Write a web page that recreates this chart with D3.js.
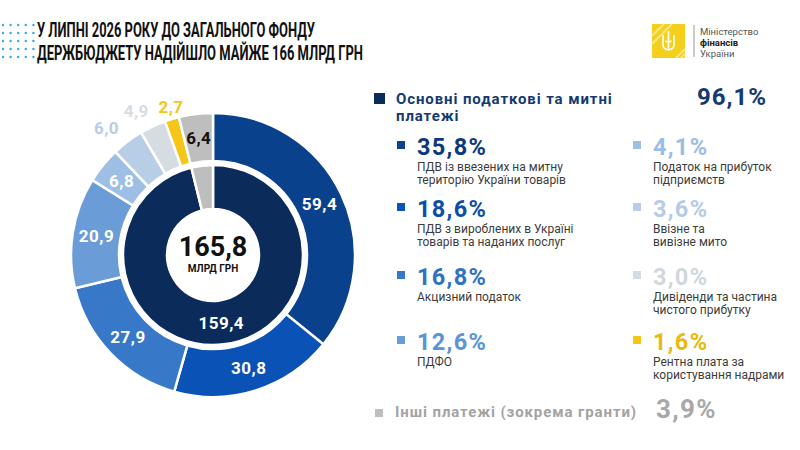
<!DOCTYPE html>
<html>
<head>
<meta charset="utf-8">
<script src="https://cdn.jsdelivr.net/npm/d3@7"></script>
<style>
  body { margin: 0; background: #fff; }
  svg { display: block; font-family: Roboto, "Noto Sans", sans-serif; }
</style>
</head>
<body>
<div id="chart"></div>
<script>
// outer ring, clockwise from the top (bn UAH)
const items = [
  "ПДВ із ввезених на митну територію України товарів",
  "ПДВ з вироблених в Україні товарів та наданих послуг",
  "Акцизний податок",
  "ПДФО",
  "Податок на прибуток підприємств",
  "Ввізне та вивізне мито",
  "Дивіденди та частина чистого прибутку",
  "Рентна плата за користування надрами",
  "Інші платежі (зокрема гранти)"
];
const values = [59.4, 30.8, 27.9, 20.9, 6.8, 6.0, 4.9, 2.7, 6.4];
const shares = ["35,8%", "18,6%", "16,8%", "12,6%", "4,1%", "3,6%", "3,0%", "1,6%", "3,9%"];
const colors = ["#0a418c", "#0a52b5", "#3878c8", "#6a9cd8", "#9dbfe6", "#b8cde6", "#d5dde3", "#f5c518", "#bebebe"];
const shareColors = ["#0b3a7a", "#0d4fa8", "#2f72c2", "#5c93d3", "#9cbde4", "#b5cbe5", "#d0d7dd", "#e8b90f", "#a8a8a8"];

// inner ring
const groups = ["Основні податкові та митні платежі", "Інші платежі (зокрема гранти)"];
const groupValues = [159.4, 6.4];
const groupColors = ["#0b2c5b", "#bebebe"];
const mainShare = "96,1%";
const total = "165,8";

// legend text split into lines like the original
const descLines = [
  ["ПДВ із ввезених на митну", "територію України товарів"],
  ["ПДВ з вироблених в Україні", "товарів та наданих послуг"],
  ["Акцизний податок"],
  ["ПДФО"],
  ["Податок на прибуток", "підприємств"],
  ["Ввізне та", "вивізне мито"],
  ["Дивіденди та частина", "чистого прибутку"],
  ["Рентна плата за", "користування надрами"]
];

const fmt = v => String(v.toFixed(1)).replace(".", ",");

const svg = d3.select("#chart").append("svg")
  .attr("width", 800)
  .attr("height", 450);

// dotted decoration, left of title
const dots = d3.range(25).map(i => [i % 5, Math.floor(i / 5)]);
svg.append("g").selectAll("circle")
  .data(dots)
  .enter()
  .append("circle")
  .attr("cx", d => 3 + d[0] * 7.6)
  .attr("cy", d => 25 + d[1] * 8)
  .attr("r", 1.2)
  .attr("fill", "#3aa6df");

// title
const title = ["У ЛИПНІ 2026 РОКУ ДО ЗАГАЛЬНОГО ФОНДУ", "ДЕРЖБЮДЖЕТУ НАДІЙШЛО МАЙЖЕ 166 МЛРД ГРН"];
const titleW = [278, 326];
svg.selectAll(".title")
  .data(title)
  .enter()
  .append("text")
  .attr("class", "title")
  .attr("x", 37)
  .attr("y", (d, i) => 37 + i * 23)
  .attr("textLength", (d, i) => titleW[i])
  .attr("lengthAdjust", "spacingAndGlyphs")
  .style("font-family", "'Liberation Sans Narrow', Roboto, sans-serif")
  .style("font-size", "20px")
  .style("font-weight", "bold")
  .attr("fill", "#111")
  .text(d => d);

// ministry logo
const logo = svg.append("g").attr("transform", "translate(652,24)");
logo.append("rect").attr("width", 33).attr("height", 34).attr("fill", "#f5d01a");
logo.append("path")
  .attr("d", "M0,12 L12,0 M0,20 L20,0 M24,34 L33,25 M29,34 L33,30")
  .attr("stroke", "#fbe67a").attr("stroke-width", 2);
logo.append("path")
  .attr("d", "M16.5,7 L16.5,26 M11,11 L11,21 Q11,25 16.5,26 Q22,25 22,21 L22,11 M13.5,17 Q16.5,19 19.5,17")
  .attr("fill", "none").attr("stroke", "#fff").attr("stroke-width", 1.6);
svg.append("line")
  .attr("x1", 694).attr("x2", 694).attr("y1", 25).attr("y2", 57)
  .attr("stroke", "#999").attr("stroke-width", 1);
const logoText = ["Міністерство", "фінансів", "України"];
svg.selectAll(".logo-text")
  .data(logoText)
  .enter()
  .append("text")
  .attr("x", 700)
  .attr("y", (d, i) => 35 + i * 11)
  .style("font-size", "9.5px")
  .style("font-weight", (d, i) => i === 1 ? "bold" : "normal")
  .attr("fill", (d, i) => i === 1 ? "#222" : "#555")
  .text(d => d);

// donut
const cx = 213, cy = 255;
const pie = d3.pie().sort(null).value(d => d);
const outerArc = d3.arc().innerRadius(94).outerRadius(142);
const innerArc = d3.arc().innerRadius(46).outerRadius(90);

const donut = svg.append("g").attr("transform", `translate(${cx},${cy})`);

const outerData = pie(values);
donut.selectAll(".outer")
  .data(outerData)
  .enter()
  .append("path")
  .attr("class", "outer")
  .attr("d", outerArc)
  .attr("fill", (d, i) => colors[i])
  .attr("stroke", "#fff")
  .attr("stroke-width", 2.5);

const innerData = pie(groupValues);
donut.selectAll(".inner")
  .data(innerData)
  .enter()
  .append("path")
  .attr("class", "inner")
  .attr("d", innerArc)
  .attr("fill", (d, i) => groupColors[i])
  .attr("stroke", "#fff")
  .attr("stroke-width", 2.5);

// small slices get their labels outside the ring: [radius, angle nudge in degrees]
const outside = { 5: [166, -3], 6: [163, -3], 7: [154, 1] };
function labelPos(d, i) {
  if (!outside[i]) return outerArc.centroid(d);
  const [r, nudge] = outside[i];
  const a = (d.startAngle + d.endAngle) / 2 + nudge * Math.PI / 180;
  return [r * Math.sin(a), -r * Math.cos(a)];
}
donut.selectAll(".outer-label")
  .data(outerData)
  .enter()
  .append("text")
  .attr("class", "outer-label")
  .attr("transform", (d, i) => `translate(${labelPos(d, i)})`)
  .attr("text-anchor", "middle")
  .attr("dy", "0.36em")
  .style("font-size", "17px")
  .style("font-weight", "bold")
  .style("letter-spacing", "0.5px")
  .attr("fill", (d, i) => outside[i] ? colors[i] : (i === 8 ? "#111" : "#fff"))
  .text(d => fmt(d.data));

donut.append("text")
  .attr("transform", `translate(${innerArc.centroid(innerData[0])})`)
  .attr("text-anchor", "middle")
  .attr("dy", "0.36em")
  .style("font-size", "17px")
  .style("font-weight", "bold")
  .style("letter-spacing", "0.5px")
  .attr("fill", "#fff")
  .text(fmt(groupValues[0]));

donut.append("text")
  .attr("y", 1)
  .attr("text-anchor", "middle")
  .style("font-size", "27px")
  .style("font-weight", "bold")
  .attr("fill", "#111")
  .text(total);
donut.append("text")
  .attr("y", 17)
  .attr("text-anchor", "middle")
  .style("font-size", "10px")
  .style("font-weight", "bold")
  .attr("fill", "#111")
  .text("МЛРД ГРН");

// legend heading
svg.append("rect")
  .attr("x", 374).attr("y", 93).attr("width", 11).attr("height", 11)
  .attr("fill", groupColors[0]);
const headLines = ["Основні податкові та митні", "платежі"];
svg.selectAll(".head")
  .data(headLines)
  .enter()
  .append("text")
  .attr("x", 396)
  .attr("y", (d, i) => 104 + i * 17)
  .style("font-size", "15px")
  .style("font-weight", "bold")
  .style("letter-spacing", "0.9px")
  .attr("fill", "#143a6f")
  .text(d => d);
svg.append("text")
  .attr("x", 767)
  .attr("y", 105)
  .attr("text-anchor", "end")
  .style("font-size", "24px")
  .style("font-weight", "bold")
  .style("letter-spacing", "1px")
  .attr("fill", "#143a6f")
  .text(mainShare);

// legend items, two columns of four
const colX = [397, 633];
const rowY = [155, 217, 285, 350];
const legend = svg.selectAll(".item")
  .data(d3.range(8))
  .enter()
  .append("g")
  .attr("class", "item")
  .attr("transform", i => `translate(${colX[Math.floor(i / 4)]},${rowY[i % 4]})`);

legend.append("rect")
  .attr("x", 0).attr("y", -14).attr("width", 8).attr("height", 8)
  .attr("fill", i => colors[i]);
legend.append("text")
  .attr("x", 20)
  .style("font-size", "23.5px")
  .style("font-weight", "bold")
  .style("letter-spacing", "1.3px")
  .attr("fill", i => shareColors[i])
  .text(i => shares[i]);
legend.selectAll(".desc")
  .data(i => descLines[i])
  .enter()
  .append("text")
  .attr("class", "desc")
  .attr("x", 20)
  .attr("y", (d, j) => 16 + j * 13)
  .style("font-size", "12px")
  .attr("fill", "#3c3c3c")
  .text(d => d);

// other payments row
svg.append("rect")
  .attr("x", 375).attr("y", 409).attr("width", 8).attr("height", 8)
  .attr("fill", colors[8]);
svg.append("text")
  .attr("x", 395)
  .attr("y", 417)
  .style("font-size", "15px")
  .style("font-weight", "bold")
  .style("letter-spacing", "0.9px")
  .attr("fill", "#a3a3a3")
  .text(items[8]);
svg.append("text")
  .attr("x", 656)
  .attr("y", 418)
  .style("font-size", "26px")
  .style("font-weight", "bold")
  .style("letter-spacing", "1.3px")
  .attr("fill", shareColors[8])
  .text(shares[8]);
</script>
</body>
</html>
